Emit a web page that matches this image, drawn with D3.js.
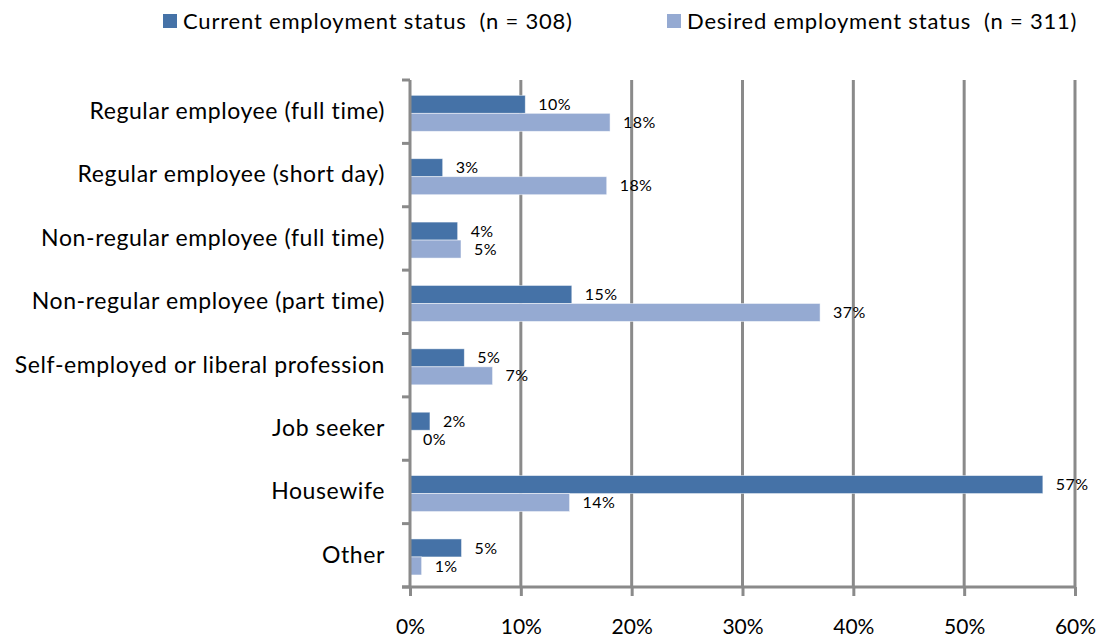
<!DOCTYPE html>
<html>
<head>
<meta charset="utf-8">
<script src="https://cdn.jsdelivr.net/npm/d3@7"></script>
<style>
  body { margin: 0; background: #fff; }
  svg { font-family: Lato, "Open Sans", sans-serif; }
</style>
</head>
<body>
<svg id="chart"></svg>
<script>
const categories = [
  'Regular employee (full time)',
  'Regular employee (short day)',
  'Non-regular employee (full time)',
  'Non-regular employee (part time)',
  'Self-employed or liberal profession',
  'Job seeker',
  'Housewife',
  'Other'
];
const seriesNames = ['Current employment status  (n = 308)', 'Desired employment status  (n = 311)'];
const currentValues = [10.4, 2.95, 4.3, 14.6, 4.9, 1.8, 57.1, 4.65];
const desiredValues = [18.05, 17.75, 4.6, 37.0, 7.45, 0, 14.4, 1.05];
const xTicks = [0, 10, 20, 30, 40, 50, 60];
const colors = ['#4572a7', '#95aad2'];

const width = 1103;
const height = 642;
const margin = {top: 80, right: 28, bottom: 55, left: 410};

const svg = d3.select('#chart')
    .attr('width', width)
    .attr('height', height);

const x = d3.scaleLinear()
    .domain([0, 60])
    .range([margin.left, width - margin.right]);

const y = d3.scaleBand()
    .domain(categories)
    .range([margin.top, height - margin.bottom]);

const ySub = d3.scaleBand()
    .domain([0, 1])
    .range([0, y.bandwidth()])
    .paddingOuter(0.76)
    .align(0.56);

// gridlines
svg.append('g')
    .selectAll('line')
    .data(xTicks.slice(1))
    .enter()
    .append('line')
    .attr('x1', d => x(d))
    .attr('x2', d => x(d))
    .attr('y1', margin.top)
    .attr('y2', height - margin.bottom)
    .attr('stroke', '#8a8a8a')
    .attr('stroke-width', 3);

// bars
const rows = categories.map((c, i) => ({cat: c, values: [currentValues[i], desiredValues[i]]}));

const row = svg.append('g')
    .selectAll('g')
    .data(rows)
    .enter()
    .append('g')
    .attr('transform', d => `translate(0, ${y(d.cat)})`);

row.selectAll('rect')
    .data(d => d.values)
    .enter()
    .append('rect')
    .attr('x', x(0))
    .attr('y', (_, i) => ySub(i))
    .attr('width', d => x(d) - x(0))
    .attr('height', ySub.bandwidth())
    .attr('fill', (_, i) => colors[i])
    .attr('stroke', '#fff')
    .attr('stroke-opacity', 0.6)
    .attr('stroke-width', 0.8);

row.selectAll('text')
    .data(d => d.values)
    .enter()
    .append('text')
    .text(d => Math.round(d) + '%')
    .attr('x', d => x(d) + 13)
    .attr('y', (_, i) => ySub(i) + ySub.bandwidth() / 2)
    .attr('dy', '0.35em')
    .attr('font-size', 16)
    .attr('letter-spacing', 0.4)
    .attr('fill', '#000');

// left axis
const yAxis = svg.append('g')
    .attr('transform', `translate(${x(0)}, 0)`)
    .call(d3.axisLeft(y).tickSize(0).tickPadding(25));
yAxis.select('.domain').remove();
yAxis.selectAll('text')
    .attr('font-size', 23)
    .attr('letter-spacing', 0.6)
    .attr('font-family', 'Lato, sans-serif')
    .attr('fill', '#000');

const bounds = categories.map(c => y(c)).concat([y.range()[1]]);
svg.append('g')
    .selectAll('line')
    .data(bounds)
    .enter()
    .append('line')
    .attr('x1', x(0) - 8)
    .attr('x2', x(0))
    .attr('y1', d => d)
    .attr('y2', d => d)
    .attr('stroke', '#8a8a8a')
    .attr('stroke-width', 3);

svg.append('line')
    .attr('x1', x(0))
    .attr('x2', x(0))
    .attr('y1', margin.top)
    .attr('y2', height - margin.bottom)
    .attr('stroke', '#8a8a8a')
    .attr('stroke-width', 3);

// bottom axis
const xAxis = svg.append('g')
    .attr('transform', `translate(0, ${height - margin.bottom})`)
    .call(d3.axisBottom(x).tickValues(xTicks).tickSize(9).tickPadding(23).tickFormat(d => d + '%'));
xAxis.select('.domain')
    .attr('stroke', '#8a8a8a')
    .attr('stroke-width', 3)
    .attr('d', `M${x(0) - 8},0H${x(60)}`);
xAxis.selectAll('line')
    .attr('stroke', '#8a8a8a')
    .attr('stroke-width', 3);
xAxis.selectAll('text')
    .attr('font-size', 21)
    .attr('font-family', 'Lato, sans-serif')
    .attr('fill', '#000');

// legend
const legendX = [163, 667];
const legend = svg.append('g')
    .selectAll('g')
    .data(seriesNames)
    .enter()
    .append('g')
    .attr('transform', (_, i) => `translate(${legendX[i]}, 21)`);
legend.append('rect')
    .attr('x', 0)
    .attr('y', -7)
    .attr('width', 14)
    .attr('height', 14)
    .attr('fill', (_, i) => colors[i]);
legend.append('text')
    .text(d => d)
    .attr('x', 20)
    .attr('dy', '0.35em')
    .attr('font-size', 22)
    .attr('letter-spacing', 0.8)
    .attr('fill', '#000')
    .style('white-space', 'pre');
</script>
</body>
</html>
